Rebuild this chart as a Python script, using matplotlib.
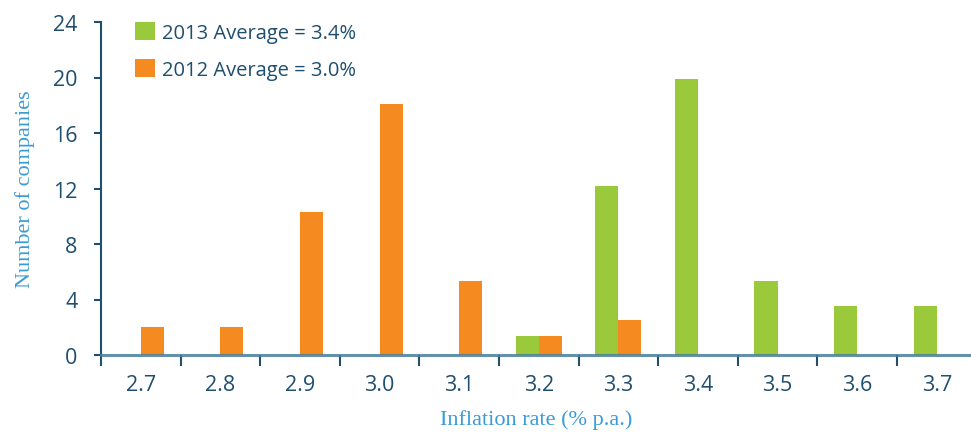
import numpy as np
import matplotlib.pyplot as plt

# Distribution of companies by assumed inflation rate
rates = ["2.7", "2.8", "2.9", "3.0", "3.1", "3.2", "3.3", "3.4", "3.5", "3.6", "3.7"]
counts_2013 = [0, 0, 0, 0, 0, 1.4, 12.2, 19.9, 5.35, 3.5, 3.5]
counts_2012 = [2.0, 2.0, 10.3, 18.1, 5.35, 1.4, 2.5, 0, 0, 0, 0]
label_2013 = "2013 Average = 3.4%"
label_2012 = "2012 Average = 3.0%"

green = "#9aca3c"
orange = "#f48a20"
navy = "#1f4e6e"
sky = "#3a9bd5"

fig = plt.figure(figsize=(9.71, 4.35), dpi=100)
ax = fig.add_axes([101 / 971, 79 / 435, 870 / 971, 333 / 435])

x = np.arange(len(rates))
w = 0.29
h13 = ax.bar(x - w / 2, counts_2013, w, color=green, label=label_2013, zorder=2)
h12 = ax.bar(x + w / 2, counts_2012, w, color=orange, label=label_2012, zorder=2)

ax.set_xlim(-0.5, 10.43)
ax.set_ylim(0, 24)
ax.set_yticks(np.arange(0, 25, 4))
ax.set_xticks(x)
ax.set_xticklabels(rates)
ax.set_xticks(np.arange(-0.5, 10.5, 1), minor=True)
ax.tick_params(axis="x", which="major", length=0, pad=14,
               labelsize=15.5, labelcolor=navy)
ax.tick_params(axis="x", which="minor", length=8, width=1.5,
               color=navy, direction="out")
ax.tick_params(axis="y", length=5, width=1.5, color=navy, pad=12,
               labelsize=15.5, labelcolor=navy)
for lab in ax.get_xticklabels() + ax.get_yticklabels():
    lab.set_family("Open Sans")

for side in ["top", "right"]:
    ax.spines[side].set_visible(False)
ax.spines["left"].set_color(navy)
ax.spines["left"].set_linewidth(1.5)
ax.spines["bottom"].set_color("#4a7d9a")
ax.spines["bottom"].set_linewidth(2.2)
ax.spines["bottom"].set_alpha(0.85)
ax.spines["bottom"].set_zorder(3)

ax.set_ylabel("Number of companies", family="Liberation Serif", fontsize=16,
              color=sky, labelpad=13)
ax.set_xlabel("Inflation rate (% p.a.)", family="Liberation Serif", fontsize=16,
              color=sky, labelpad=10)

leg = ax.legend(handles=[h13, h12], loc="upper left",
                bbox_to_anchor=(127 / 971, 1 - 15 / 435),
                bbox_transform=fig.transFigure, frameon=False,
                prop={"family": "Open Sans", "size": 14.5},
                handlelength=1.0, handleheight=1.0, handletextpad=0.35,
                labelspacing=0.8, borderaxespad=0)
for t in leg.get_texts():
    t.set_color(navy)

fig.savefig("out.png", dpi=100)
